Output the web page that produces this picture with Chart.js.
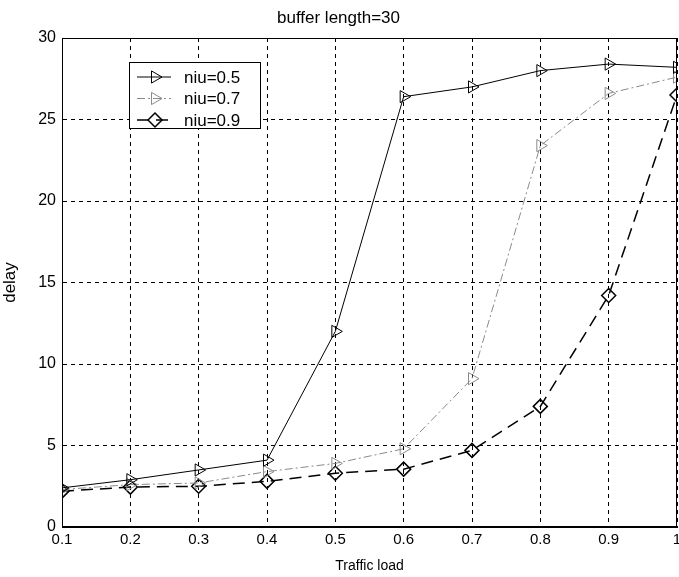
<!DOCTYPE html>
<html>
<head>
<meta charset="utf-8">
<script src="https://cdn.jsdelivr.net/npm/chart.js@4/dist/chart.umd.min.js"></script>
<style>
  html, body { margin: 0; padding: 0; background: #fff; }
  #wrap { width: 679px; height: 577px; }
</style>
</head>
<body>
<div id="wrap"><canvas id="delay-chart"></canvas></div>
<script>
// values
const trafficLoad = [0.1, 0.2, 0.3, 0.4, 0.5, 0.6, 0.7, 0.8, 0.9, 1.0];
const niu05 = [2.4, 2.9, 3.5, 4.1, 12.0, 26.4, 27.0, 28.0, 28.4, 28.2];
const niu07 = [2.3, 2.6, 2.7, 3.4, 3.9, 4.8, 9.1, 23.4, 26.6, 27.6];
const niu09 = [2.2, 2.45, 2.5, 2.8, 3.3, 3.55, 4.7, 7.4, 14.2, 26.5];
const xTicks = [0.1, 0.2, 0.3, 0.4, 0.5, 0.6, 0.7, 0.8, 0.9, 1.0];
const yTicks = [0, 5, 10, 15, 20, 25, 30];

const FONT = "'Liberation Sans', Arial, sans-serif";

const pts = (ys) => trafficLoad.map((x, i) => ({ x: x, y: ys[i] }));

// box round the plot, like matlab's axes
const boxPlugin = {
    id: "box",
    afterDatasetsDraw(chart) {
        const { ctx, chartArea: a } = chart;
        ctx.save();
        ctx.strokeStyle = "#000";
        ctx.lineWidth = 1;
        ctx.setLineDash([]);
        ctx.strokeRect(a.left + 0.5, a.top + 0.5, a.right - a.left - 1, a.bottom - a.top - 1);
        ctx.restore();
    },
};

// legend inside the axes, top left
const boxLegend = {
    id: "boxLegend",
    afterDraw(chart) {
        const { ctx, chartArea: a } = chart;
        const x0 = a.left + 67, y0 = a.top + 24, w = 131, h = 66;
        ctx.save();
        ctx.fillStyle = "#fff";
        ctx.fillRect(x0, y0, w, h);
        ctx.strokeStyle = "#000";
        ctx.lineWidth = 1;
        ctx.strokeRect(x0 + 0.5, y0 + 0.5, w, h);
        chart.data.datasets.forEach((ds, i) => {
            const cy = y0 + 15 + i * 21.5;
            ctx.strokeStyle = ds.borderColor;
            ctx.lineWidth = ds.borderWidth;
            ctx.setLineDash(ds.borderDash || []);
            ctx.beginPath();
            ctx.moveTo(x0 + 8, cy);
            ctx.lineTo(x0 + 42, cy);
            ctx.stroke();
            ctx.setLineDash([]);
            ctx.fillStyle = "rgba(0,0,0,0)";
            ctx.lineWidth = ds.pointBorderWidth;
            Chart.helpers.drawPoint(ctx, {
                pointStyle: ds.pointStyle,
                rotation: ds.pointRotation || 0,
                radius: ds.pointRadius,
                borderWidth: ds.pointBorderWidth,
            }, x0 + 26, cy);
            ctx.fillStyle = "#000";
            ctx.font = "17px " + FONT;
            ctx.textBaseline = "middle";
            ctx.fillText(ds.label, x0 + 55, cy + 1);
        });
        ctx.restore();
    },
};

const ctx1 = document.getElementById("delay-chart").getContext("2d");
const delayChart = new Chart(ctx1, {
    type: "line",
    data: {
        datasets: [{
                label: "niu=0.5",
                data: pts(niu05),
                borderColor: "#000",
                borderWidth: 1,
                pointStyle: "triangle",
                pointRotation: 90,
                pointRadius: 7,
                pointBorderWidth: 1,
                pointBackgroundColor: "rgba(0,0,0,0)",
            },
            {
                label: "niu=0.7",
                data: pts(niu07),
                borderColor: "#8a8a8a",
                borderWidth: 1,
                borderDash: [8, 3, 2, 3],
                pointStyle: "triangle",
                pointRotation: 90,
                pointRadius: 7,
                pointBorderWidth: 1,
                pointBackgroundColor: "rgba(0,0,0,0)",
            },
            {
                label: "niu=0.9",
                data: pts(niu09),
                borderColor: "#000",
                borderWidth: 1.5,
                borderDash: [12, 7],
                pointStyle: "rectRot",
                pointRadius: 7,
                pointBorderWidth: 1.5,
                pointBackgroundColor: "rgba(0,0,0,0)",
            },
        ],
    },
    options: {
        responsive: true,
        maintainAspectRatio: false,
        animation: false,
        elements: {
            line: {
                tension: 0,
                fill: false,
            },
        },
        layout: {
            autoPadding: false, // markers may be cut at the edges, as in the figure
            padding: { left: 0, right: 2, top: 0, bottom: 0 },
        },
        scales: {
            x: {
                type: "linear",
                min: 0.1,
                max: 1,
                afterBuildTicks: (scale) => {
                    scale.ticks = xTicks.map((v) => ({ value: v }));
                },
                afterFit: (scale) => {
                    scale.height = 50;
                    scale.paddingLeft = 0;
                    scale.paddingRight = 0;
                },
                ticks: {
                    color: "#000",
                    font: { family: FONT, size: 15 },
                    padding: 4,
                    maxRotation: 0,
                    callback: (v) => String(+v.toFixed(1)),
                },
                grid: { color: "#000", lineWidth: 1, drawTicks: false },
                border: { display: true, color: "#000", dash: [4, 4] },
                title: {
                    display: true,
                    text: "Traffic load",
                    color: "#000",
                    font: { family: FONT, size: 14 },
                    padding: { top: 0, bottom: 2 },
                },
            },
            y: {
                min: 0,
                max: 30,
                afterBuildTicks: (scale) => {
                    scale.ticks = yTicks.map((v) => ({ value: v }));
                },
                afterFit: (scale) => {
                    scale.width = 62;
                },
                ticks: {
                    color: "#000",
                    font: { family: FONT, size: 16 },
                    padding: 6,
                },
                grid: { color: "#000", lineWidth: 1, drawTicks: false },
                border: { display: true, color: "#000", dash: [4, 4] },
                title: {
                    display: true,
                    text: "delay",
                    color: "#000",
                    font: { family: FONT, size: 17 },
                    padding: { top: 0, bottom: 2 },
                },
            },
        },
        plugins: {
            legend: { display: false },
            tooltip: { enabled: false },
            title: {
                display: true,
                text: "buffer length=30",
                color: "#000",
                font: { family: FONT, size: 17, weight: "normal" },
                padding: { top: 8, bottom: 9.6 },
            },
        },
    },
    plugins: [boxPlugin, boxLegend],
});
</script>
</body>
</html>
